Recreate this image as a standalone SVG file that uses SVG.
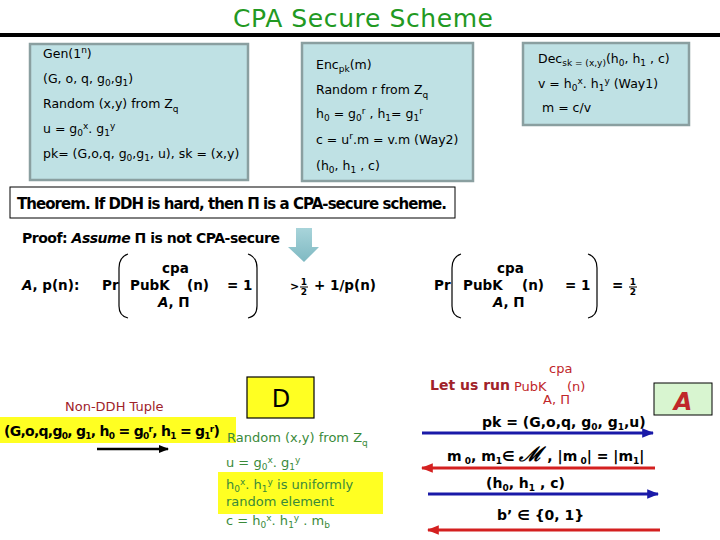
<svg xmlns="http://www.w3.org/2000/svg" width="720" height="540" viewBox="0 0 720 540">
<defs>
<style>
text{font-family:"DejaVu Sans","Liberation Sans",sans-serif;fill:#000}
.box{fill:#bfe1e4;stroke:#8a9fa0;stroke-width:2.5}
.bt{font-size:12.5px}
.sub{font-size:9px}
.b{font-weight:bold}
.fm{font-size:13.5px;font-weight:bold}
.paren{fill:none;stroke:#000;stroke-width:1.2}
.grn{fill:#3a8a3a;font-size:13px}
.red{fill:#c0262a}
.dred{fill:#a0222a}
</style>
<marker id="mb" viewBox="0 0 10 10" refX="9" refY="5" markerWidth="4" markerHeight="4" orient="auto-start-reverse" markerUnits="strokeWidth"><path d="M0,1 L10,5 L0,9 Z" fill="#1a1aa8"/></marker>
<marker id="mr" viewBox="0 0 10 10" refX="9" refY="5" markerWidth="4" markerHeight="4" orient="auto-start-reverse" markerUnits="strokeWidth"><path d="M0,1 L10,5 L0,9 Z" fill="#d42020"/></marker>
<marker id="mk" viewBox="0 0 10 10" refX="9" refY="5" markerWidth="4" markerHeight="4" orient="auto-start-reverse" markerUnits="strokeWidth"><path d="M0,1 L10,5 L0,9 Z" fill="#000"/></marker>
<linearGradient id="ag" x1="0" y1="0" x2="0" y2="1"><stop offset="0" stop-color="#a8d4da"/><stop offset="1" stop-color="#7fb9c2"/></linearGradient>
</defs>
<rect width="720" height="540" fill="#fff"/>

<g id="title">
<text x="363" y="27" font-size="25" text-anchor="middle" textLength="260" style="fill:#229922">CPA Secure Scheme</text>
<rect x="0" y="33" width="720" height="4" fill="#000"/>
</g>

<g id="gen">
<rect class="box" x="30" y="44" width="218" height="136"/>
<text class="bt" x="43" y="58">Gen(1<tspan class="sub" dy="-5">n</tspan><tspan dy="5">)</tspan></text>
<text class="bt" x="43" y="83">(G, o, q, g<tspan class="sub" dy="3">0</tspan><tspan dy="-3">,g</tspan><tspan class="sub" dy="3">1</tspan><tspan dy="-3">)</tspan></text>
<text class="bt" x="43" y="108">Random (x,y) from Z<tspan class="sub" dy="4">q</tspan></text>
<text class="bt" x="43" y="133">u =  g<tspan class="sub" dy="3">0</tspan><tspan class="sub" dy="-7">x</tspan><tspan dy="4">. g</tspan><tspan class="sub" dy="3">1</tspan><tspan class="sub" dy="-7">y</tspan></text>
<text class="bt" x="43" y="158">pk= (G,o,q, g<tspan class="sub" dy="3">0</tspan><tspan dy="-3">,g</tspan><tspan class="sub" dy="3">1</tspan><tspan dy="-3">, u), sk = (x,y)</tspan></text>
</g>

<g id="enc">
<rect class="box" x="302" y="43" width="171" height="138"/>
<text class="bt" x="316" y="69">Enc<tspan class="sub" dy="3">pk</tspan><tspan dy="-3">(m)</tspan></text>
<text class="bt" x="316" y="94">Random r from Z<tspan class="sub" dy="4">q</tspan></text>
<text class="bt" x="316" y="118">h<tspan class="sub" dy="3">0</tspan><tspan dy="-3"> = g</tspan><tspan class="sub" dy="3">0</tspan><tspan class="sub" dy="-7">r</tspan><tspan dy="4"> , h</tspan><tspan class="sub" dy="3">1</tspan><tspan dy="-3">= g</tspan><tspan class="sub" dy="3">1</tspan><tspan class="sub" dy="-7">r</tspan></text>
<text class="bt" x="316" y="144">c = u<tspan class="sub" dy="-5">r</tspan><tspan dy="5">.m = v.m  (Way2)</tspan></text>
<text class="bt" x="316" y="170">(h<tspan class="sub" dy="3">0</tspan><tspan dy="-3">, h</tspan><tspan class="sub" dy="3">1</tspan><tspan dy="-3"> , c)</tspan></text>
</g>

<g id="dec">
<rect class="box" x="523" y="43" width="166" height="82"/>
<text class="bt" x="538" y="63">Dec<tspan class="sub" dy="3">sk = (x,y)</tspan><tspan dy="-3">(h</tspan><tspan class="sub" dy="3">0</tspan><tspan dy="-3">, h</tspan><tspan class="sub" dy="3">1</tspan><tspan dy="-3"> , c)</tspan></text>
<text class="bt" x="538" y="88">v = h<tspan class="sub" dy="3">0</tspan><tspan class="sub" dy="-7">x</tspan><tspan dy="4">. h</tspan><tspan class="sub" dy="3">1</tspan><tspan class="sub" dy="-7">y</tspan><tspan dy="4">  (Way1)</tspan></text>
<text class="bt" x="542" y="112">m = c/v</text>
</g>

<g id="theorem">
<rect x="10" y="187" width="445" height="31" fill="#fff" stroke="#000" stroke-width="1"/>
<text x="17" y="209" font-size="15" class="b" textLength="430">Theorem. If DDH is hard, then Π is a CPA-secure scheme.</text>
</g>

<g id="proof">
<text x="22" y="243" font-size="14" class="b" textLength="258">Proof: <tspan font-style="italic">Assume</tspan> Π is not CPA-secure</text>
<path d="M296,228 H312 V247 H319 L304,262 L288,247 H296 Z" fill="url(#ag)"/>
</g>

<g id="formula1">
<text class="fm" x="22" y="290"><tspan font-style="italic">A</tspan>, p(n):</text>
<text class="fm" x="102" y="290">Pr</text>
<path class="paren" d="M128,254 Q119,257 119,268 L119,306 Q119,316 128,318"/>
<text class="fm" x="130" y="290">PubK</text>
<text class="fm" x="162" y="273">cpa</text>
<text class="fm" x="187" y="290">(n)</text>
<text class="fm" x="227" y="290">= 1</text>
<text class="fm" x="158" y="307"><tspan font-style="italic">A</tspan>, Π</text>
<path class="paren" d="M248,254 Q257,257 257,268 L257,306 Q257,316 248,318"/>
<text x="290" y="290" font-size="11" class="b">&gt;</text>
<text x="304" y="285" font-size="9" class="b" text-anchor="middle">1</text>
<line x1="300" y1="287" x2="308" y2="287" stroke="#000" stroke-width="1"/>
<text x="304" y="295" font-size="9" class="b" text-anchor="middle">2</text>
<text class="fm" x="314" y="290">+ 1/p(n)</text>
</g>

<g id="formula2">
<text class="fm" x="434" y="290">Pr</text>
<path class="paren" d="M461,254 Q452,257 452,268 L452,306 Q452,316 461,318"/>
<text class="fm" x="463" y="290">PubK</text>
<text class="fm" x="497" y="273">cpa</text>
<text class="fm" x="522" y="290">(n)</text>
<text class="fm" x="565" y="290">= 1</text>
<text class="fm" x="493" y="307"><tspan font-style="italic">A</tspan>, Π</text>
<path class="paren" d="M588,254 Q597,257 597,268 L597,306 Q597,316 588,318"/>
<text class="fm" x="612" y="290">=</text>
<text x="633" y="285" font-size="9" class="b" text-anchor="middle">1</text>
<line x1="629" y1="287" x2="637" y2="287" stroke="#000" stroke-width="1"/>
<text x="633" y="295" font-size="9" class="b" text-anchor="middle">2</text>
</g>

<g id="tuple">
<text x="65" y="411" font-size="13" class="dred">Non-DDH Tuple</text>
<rect x="0" y="417" width="236" height="26" fill="#ffff22"/>
<text x="4" y="436" font-size="14" class="b" textLength="216">(G,o,q,g<tspan class="sub" dy="3">0</tspan><tspan dy="-3">, g</tspan><tspan class="sub" dy="3">1</tspan><tspan dy="-3">, h</tspan><tspan class="sub" dy="3">0</tspan><tspan dy="-3"> = g</tspan><tspan class="sub" dy="3">0</tspan><tspan class="sub" dy="-7">r</tspan><tspan dy="4">, h</tspan><tspan class="sub" dy="3">1</tspan><tspan dy="-3"> = g</tspan><tspan class="sub" dy="3">1</tspan><tspan class="sub" dy="-7">r</tspan><tspan dy="4">)</tspan></text>
</g>

<g id="D">
<rect x="247" y="377" width="67" height="41" fill="#ffff22" stroke="#000" stroke-width="1.2"/>
<text x="281" y="407" font-size="24" text-anchor="middle">D</text>
</g>

<g id="dwork">
<rect x="218" y="472" width="165" height="42" fill="#ffff22"/>
<text class="grn" x="227" y="442">Random (x,y) from Z<tspan class="sub" dy="4">q</tspan></text>
<text class="grn" x="226" y="467">u =  g<tspan class="sub" dy="3">0</tspan><tspan class="sub" dy="-7">x</tspan><tspan dy="4">. g</tspan><tspan class="sub" dy="3">1</tspan><tspan class="sub" dy="-7">y</tspan></text>
<text class="grn" x="226" y="489">h<tspan class="sub" dy="3">0</tspan><tspan class="sub" dy="-7">x</tspan><tspan dy="4">. h</tspan><tspan class="sub" dy="3">1</tspan><tspan class="sub" dy="-7">y</tspan><tspan dy="4"> is uniformly</tspan></text>
<text class="grn" x="226" y="506">random element</text>
<text class="grn" x="226" y="525">c = h<tspan class="sub" dy="3">0</tspan><tspan class="sub" dy="-7">x</tspan><tspan dy="4">. h</tspan><tspan class="sub" dy="3">1</tspan><tspan class="sub" dy="-7">y</tspan><tspan dy="4"> . m</tspan><tspan class="sub" dy="3">b</tspan></text>
</g>

<g id="letrun">
<text x="430" y="390" font-size="14" class="b dred">Let us run</text>
<text x="514" y="391" font-size="13" class="red">PubK</text>
<text x="549" y="373" font-size="13" class="red">cpa</text>
<text x="567" y="391" font-size="13" class="red">(n)</text>
<text x="543" y="404" font-size="13" class="red">A, Π</text>
</g>

<g id="A">
<rect x="654" y="383" width="58" height="32" fill="#d8f5d0" stroke="#000" stroke-width="1"/>
<text x="683" y="410" font-size="24" text-anchor="middle" font-style="italic" class="b red">A</text>
</g>

<g id="connectors">
<line x1="97" y1="449" x2="168" y2="449" stroke="#000" stroke-width="2.5" marker-end="url(#mk)"/>
<line x1="422" y1="433" x2="653" y2="433" stroke="#1a1aa8" stroke-width="3" marker-end="url(#mb)"/>
<line x1="655" y1="468" x2="422" y2="468" stroke="#d42020" stroke-width="3" marker-end="url(#mr)"/>
<line x1="428" y1="494" x2="658" y2="494" stroke="#1a1aa8" stroke-width="3" marker-end="url(#mb)"/>
<line x1="660" y1="530" x2="428" y2="530" stroke="#d42020" stroke-width="3" marker-end="url(#mr)"/>
</g>

<g id="msgs">
<text x="482" y="427" font-size="14" class="b">pk = (G,o,q, g<tspan class="sub" dy="3">0</tspan><tspan dy="-3">, g</tspan><tspan class="sub" dy="3">1</tspan><tspan dy="-3">,u)</tspan></text>
<text x="447" y="461" font-size="14" class="b">m<tspan class="sub" dy="3"> 0</tspan><tspan dy="-3">, m</tspan><tspan class="sub" dy="3">1</tspan><tspan dy="-3">∈  </tspan><tspan font-family="Liberation Serif,serif" font-style="italic" font-size="20">ℳ</tspan><tspan>  ,  |m</tspan><tspan class="sub" dy="3"> 0</tspan><tspan dy="-3">| = |m</tspan><tspan class="sub" dy="3">1</tspan><tspan dy="-3">|</tspan></text>
<text x="486" y="488" font-size="14" class="b">(h<tspan class="sub" dy="3">0</tspan><tspan dy="-3">, h</tspan><tspan class="sub" dy="3">1</tspan><tspan dy="-3"> , c)</tspan></text>
<text x="497" y="520" font-size="14" class="b">b’ ∈ {0, 1}</text>
</g>
</svg>
